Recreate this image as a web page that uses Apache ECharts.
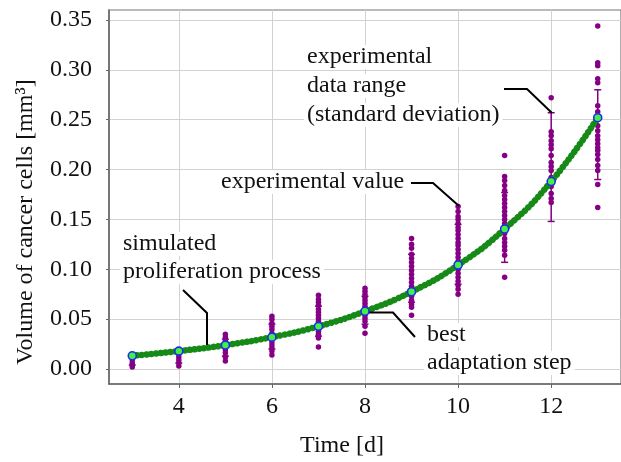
<!DOCTYPE html>
<html>
<head>
<meta charset="utf-8">
<script src="https://cdn.jsdelivr.net/npm/echarts@6/dist/echarts.min.js"></script>
<style>
  html, body { margin: 0; padding: 0; background: #fff; }
  #chart { width: 621px; height: 462px; }
</style>
</head>
<body>
<div id="chart"></div>
<script>
// days and model values
var days = [3, 4, 5, 6, 7, 8, 9, 10, 11, 12, 13];
var simulated = [0.0133, 0.018, 0.024, 0.032, 0.0428, 0.0579, 0.0775, 0.1043, 0.1404, 0.188, 0.252];

// measured values per day (same order as days)
var experimental = [
  [0.012, 0.009, 0.006, 0.004, 0.002],
  [0.018, 0.015, 0.012, 0.009, 0.006, 0.003],
  [0.035, 0.032, 0.029, 0.026, 0.022, 0.019, 0.016, 0.012, 0.008],
  [0.053, 0.050, 0.046, 0.043, 0.040, 0.036, 0.033, 0.030, 0.027, 0.024, 0.021, 0.018, 0.014],
  [0.074, 0.070, 0.067, 0.064, 0.060, 0.057, 0.054, 0.051, 0.048, 0.044, 0.041, 0.038, 0.035, 0.031, 0.022],
  [0.081, 0.078, 0.075, 0.072, 0.069, 0.066, 0.063, 0.060, 0.057, 0.054, 0.051, 0.048, 0.043, 0.036],
  [0.131, 0.125, 0.121, 0.115, 0.111, 0.107, 0.103, 0.099, 0.095, 0.091, 0.087, 0.083, 0.080, 0.073, 0.069, 0.065, 0.062, 0.054],
  [0.163, 0.158, 0.153, 0.150, 0.146, 0.142, 0.139, 0.135, 0.131, 0.127, 0.124, 0.120, 0.116, 0.112, 0.108, 0.100, 0.096, 0.092, 0.088, 0.084, 0.080, 0.075],
  [0.214, 0.193, 0.189, 0.184, 0.179, 0.174, 0.170, 0.166, 0.162, 0.158, 0.154, 0.150, 0.146, 0.136, 0.131, 0.127, 0.123, 0.119, 0.114, 0.092],
  [0.272, 0.238, 0.234, 0.229, 0.225, 0.221, 0.214, 0.207, 0.203, 0.199, 0.192, 0.183, 0.176, 0.171, 0.167],
  [0.344, 0.307, 0.304, 0.291, 0.287, 0.264, 0.258, 0.244, 0.239, 0.234, 0.230, 0.226, 0.222, 0.219, 0.215, 0.210, 0.204, 0.199, 0.185, 0.162]
];

// standard deviation range
var sdLow = [0.004, 0.006, 0.013, 0.020, 0.033, 0.045, 0.067, 0.085, 0.107, 0.148, 0.190];
var sdHigh = [0.012, 0.016, 0.030, 0.045, 0.063, 0.073, 0.115, 0.145, 0.177, 0.257, 0.280];

var xTicks = [4, 6, 8, 10, 12];
var yTicks = [0, 0.05, 0.10, 0.15, 0.20, 0.25, 0.30, 0.35];

var font = '"Liberation Serif", "DejaVu Serif", serif';

var expPoints = [];
for (var i = 0; i < days.length; i++) {
  for (var j = 0; j < experimental[i].length; j++) {
    expPoints.push([days[i], experimental[i][j]]);
  }
}
var simPoints = days.map(function (d, i) { return [d, simulated[i]]; });
var sdData = days.map(function (d, i) { return [d, sdLow[i], sdHigh[i]]; });

function label(text, x, y) {
  return {
    type: 'text', x: x, y: y, z: 1,
    style: {
      text: text, font: '24px ' + font, fill: '#111',
      verticalAlign: 'middle', backgroundColor: '#fff', padding: [0, 3]
    }
  };
}
function leader(points) {
  return {
    type: 'polyline', z: 5,
    shape: { points: points },
    style: { stroke: '#000', lineWidth: 2, fill: null }
  };
}

var chart = echarts.init(document.getElementById('chart'));
chart.setOption({
  animation: false,
  backgroundColor: '#fff',
  grid: { left: 109, top: 10, width: 513, height: 374, show: true, borderColor: '#777', borderWidth: 1.2 },
  xAxis: {
    type: 'value', min: 2.5, max: 13.5,
    axisLine: { onZero: false, lineStyle: { color: '#666', width: 1.5 } },
    axisTick: { customValues: xTicks, length: 4, lineStyle: { color: '#666' } },
    axisLabel: { customValues: xTicks, margin: 11, color: '#111', fontFamily: font, fontSize: 24 },
    splitLine: { show: true, lineStyle: { color: '#d2d2d2', width: 1 } }
  },
  yAxis: {
    type: 'value', min: -0.015, max: 0.36,
    axisLine: { show: true, onZero: false, lineStyle: { color: '#666', width: 1.5 } },
    axisTick: { show: true, customValues: yTicks, length: 3, lineStyle: { color: '#666' } },
    axisLabel: {
      customValues: yTicks, margin: 17, color: '#111', fontFamily: font, fontSize: 24,
      formatter: function (v) { return v.toFixed(2); }
    },
    splitLine: { show: true, lineStyle: { color: '#d2d2d2', width: 1 } }
  },
  graphic: [
    { type: 'text', x: 26, y: 222, rotation: Math.PI / 2, z: 1,
      style: { text: 'Volume of cancer cells [mm³]', font: '24px ' + font, fill: '#111', align: 'center', verticalAlign: 'middle' } },
    { type: 'text', x: 342, y: 446, z: 1,
      style: { text: 'Time [d]', font: '24px ' + font, fill: '#111', align: 'center', verticalAlign: 'middle' } },
    label('simulated', 120, 244),
    label('proliferation process', 120, 272),
    label('experimental value', 218, 182),
    label('experimental', 304, 57),
    label('data range', 304, 86),
    label('(standard deviation)', 304, 115),
    label('best', 424, 335),
    label('adaptation step', 424, 363),
    leader([[183, 290], [207, 313], [207, 345]]),
    leader([[411, 183], [433, 183], [459, 206]]),
    leader([[504, 89], [527, 89], [552, 113]]),
    leader([[367, 312.5], [393, 312.5], [415, 337]])
  ],
  series: [
    {
      name: 'sd', type: 'custom', z: 2,
      data: sdData,
      renderItem: function (params, api) {
        var lo = api.coord([api.value(0), api.value(1)]);
        var hi = api.coord([api.value(0), api.value(2)]);
        var w = 3.5;
        var st = { stroke: '#800080', lineWidth: 1.5 };
        return {
          type: 'group',
          children: [
            { type: 'line', shape: { x1: lo[0], y1: lo[1], x2: hi[0], y2: hi[1] }, style: st },
            { type: 'line', shape: { x1: lo[0] - w, y1: lo[1], x2: lo[0] + w, y2: lo[1] }, style: st },
            { type: 'line', shape: { x1: hi[0] - w, y1: hi[1], x2: hi[0] + w, y2: hi[1] }, style: st }
          ]
        };
      }
    },
    {
      name: 'experimental', type: 'scatter', z: 3,
      data: expPoints, symbolSize: 5.5,
      itemStyle: { color: '#850085', opacity: 1 }
    },
    {
      name: 'curve', type: 'line', z: 4,
      data: simPoints, smooth: true, showSymbol: false,
      lineStyle: { color: '#168a16', width: 6.5, type: [0.01, 4.8], cap: 'round' }
    },
    {
      name: 'simulated', type: 'scatter', z: 6,
      data: simPoints, symbolSize: 8,
      itemStyle: { color: '#44f044', borderColor: '#1a2ef0', borderWidth: 1.6, opacity: 1 }
    }
  ]
});
</script>
</body>
</html>
